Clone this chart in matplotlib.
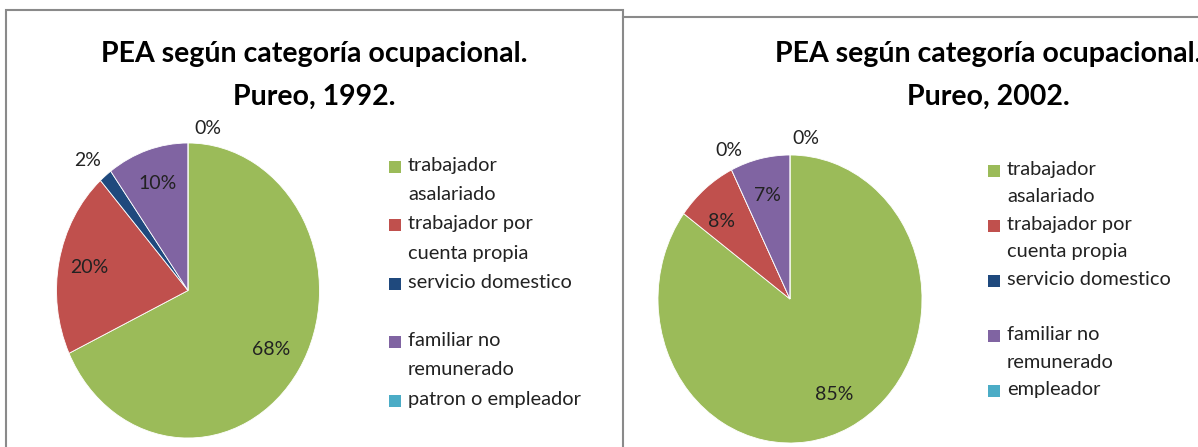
import matplotlib.pyplot as plt
from matplotlib.patches import Rectangle
from matplotlib.lines import Line2D
import numpy as np

W, H = 1198, 447

# data
titles = ["PEA según categoría ocupacional.", "PEA según categoría ocupacional."]
subtitles = ["Pureo, 1992.", "Pureo, 2002."]
labels_1992 = ["trabajador\nasalariado", "trabajador por\ncuenta propia",
               "servicio domestico\n", "familiar no\nremunerado", "patron o empleador"]
labels_2002 = ["trabajador\nasalariado", "trabajador por\ncuenta propia",
               "servicio domestico\n", "familiar no\nremunerado", "empleador"]
values_1992 = [68.0, 20.4, 1.6, 10.0, 0.0]
values_2002 = [85.1, 7.6, 0.0, 7.3, 0.0]
colors = ["#9BBB59", "#C0504D", "#1F497D", "#8064A2", "#4BACC6"]

plt.rcParams['font.family'] = ['Lato', 'DejaVu Sans']

fig = plt.figure(figsize=(W / 100, H / 100), dpi=100)


def fx(x):
    return x / W


def fy(y):
    return 1 - y / H


# panel borders
fig.add_artist(Rectangle((fx(6), fy(460)), fx(623) - fx(6), fy(10) - fy(460),
                         transform=fig.transFigure, fill=False,
                         edgecolor="#8a8a8a", linewidth=1.5))
fig.add_artist(Line2D([fx(623), fx(1200)], [fy(17), fy(17)],
                      transform=fig.transFigure, color="#8a8a8a", linewidth=1.5))


def draw_pie(values, labels, cx, cy, rx, ry, title, subtitle, tcx,
             leg_x, leg_y0, leg_step, lab_pos):
    lim = 1.3
    ax = fig.add_axes([fx(cx - rx * lim), fy(cy + ry * lim),
                       2 * rx * lim / W, 2 * ry * lim / H])
    wedges, _ = ax.pie(values, colors=colors, startangle=90, counterclock=False,
                       wedgeprops=dict(edgecolor="white", linewidth=0.6))
    ax.set_aspect('auto')
    ax.set_xlim(-lim, lim)
    ax.set_ylim(-lim, lim)
    ax.axis('off')

    total = sum(values)
    for w, v, (r, dth) in zip(wedges, values, lab_pos):
        th = np.deg2rad((w.theta1 + w.theta2) / 2 + dth)
        ax.text(r * np.cos(th), r * np.sin(th), "%.0f%%" % (v / total * 100),
                ha='center', va='center', fontsize=14, color="#222222")

    # title
    fig.text(fx(tcx), fy(62), title, ha='center', va='baseline',
             fontsize=20.5, fontweight='bold', color='black')
    fig.text(fx(tcx), fy(105), subtitle, ha='center', va='baseline',
             fontsize=20.5, fontweight='bold', color='black')

    # legend
    k = 0
    for lab, c in zip(labels, colors):
        base = leg_y0 + k * leg_step
        fig.add_artist(Rectangle((fx(leg_x), fy(base + 2)), 12 / W, 12 / H,
                                 transform=fig.transFigure, facecolor=c,
                                 edgecolor='none'))
        for line in lab.split("\n"):
            fig.text(fx(leg_x + 19), fy(leg_y0 + k * leg_step), line,
                     ha='left', va='baseline', fontsize=14.4, color="#222222")
            k += 1
        if "\n" not in lab:
            k += 1


draw_pie(values_1992, labels_1992, 188, 290.5, 131.5, 147.5, titles[0], subtitles[0],
         314, 389, 171, 29.2,
         [(0.75, 0), (0.77, 0), (1.17, 2), (0.76, 0), (1.11, -8)])
draw_pie(values_2002, labels_2002, 790, 299, 132, 144, titles[1], subtitles[1],
         988, 988, 175, 27.5,
         [(0.74, 0), (0.75, 4), (1.13, -2), (0.74, 0), (1.12, -6)])

fig.savefig("out.png", dpi=100)
